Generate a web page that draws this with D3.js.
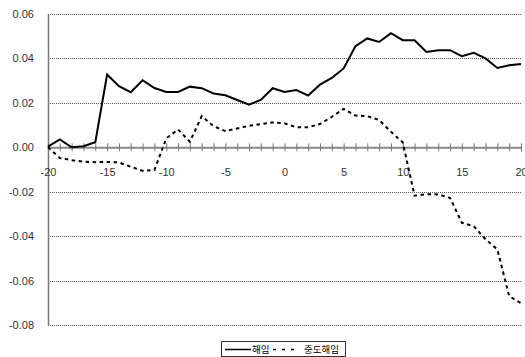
<!DOCTYPE html>
<html><head><meta charset="utf-8">
<script src="https://cdn.jsdelivr.net/npm/d3@7"></script>
<style>
html,body{margin:0;padding:0;background:#fff;}
svg{display:block;}
</style>
</head><body>
<svg id="chart" width="525" height="357"></svg>
<script>
const days = d3.range(-20, 21);
const dismissal = [0.0003,0.0035,0.0000,0.0005,0.0023,0.0327,0.0275,0.0248,0.0302,0.0267,0.0249,0.0249,0.0273,0.0266,0.0242,0.0234,0.0213,0.0192,0.0213,0.0266,0.0249,0.0258,0.0233,0.0282,0.0312,0.0355,0.0455,0.0490,0.0474,0.0514,0.0482,0.0482,0.0429,0.0437,0.0437,0.0410,0.0425,0.0400,0.0357,0.0369,0.0375];
const midDismissal = [0.0000,-0.0048,-0.0058,-0.0065,-0.0067,-0.0066,-0.0068,-0.0088,-0.0106,-0.0102,0.0040,0.0080,0.0025,0.0140,0.0095,0.0073,0.0085,0.0097,0.0104,0.0112,0.0108,0.0090,0.0090,0.0105,0.0137,0.0173,0.0143,0.0140,0.0123,0.0070,0.0022,-0.0218,-0.0211,-0.0212,-0.0228,-0.0340,-0.0355,-0.0414,-0.0460,-0.0670,-0.0702];
const seriesNames = ["해임", "중도해임"];
const yTicks = [0.06, 0.04, 0.02, 0.00, -0.02, -0.04, -0.06, -0.08];
const yTickLabels = ["0.06", "0.04", "0.02", "0.00", "-0.02", "-0.04", "-0.06", "-0.08"];
const xLabelTicks = [-20, -15, -10, -5, 0, 5, 10, 15, 20];

const svg = d3.select("#chart");
const x = d3.scaleLinear().domain([-20, 20]).range([48, 521]);
const y = d3.scaleLinear().domain([-0.08, 0.06]).range([325, 14]);
const font = "'Liberation Sans', Arial, sans-serif";

// gridlines
svg.append("g").selectAll("line").data(yTicks.filter(d => d !== 0)).join("line")
  .attr("x1", x(-20)).attr("x2", x(20))
  .attr("y1", d => Math.round(y(d)) + 0.5).attr("y2", d => Math.round(y(d)) + 0.5)
  .attr("stroke", "#555").attr("stroke-width", 1).attr("stroke-dasharray", "1,1");

// y axis
const yAxis = d3.axisLeft(y).tickValues(yTicks).tickSize(0).tickPadding(14)
  .tickFormat((d, i) => yTickLabels[i]);
const gy = svg.append("g").attr("transform", `translate(${x(-20)},0)`).call(yAxis);
gy.select(".domain").attr("stroke", "#777").attr("stroke-width", 1.5);
gy.selectAll("text").attr("font-family", font).attr("font-size", 11).attr("fill", "#333");

// x axis at zero
const y0 = y(0);
const xAxis = d3.axisBottom(x).tickValues(days).tickSize(0).tickFormat("");
const gx = svg.append("g").attr("transform", `translate(0,${y0})`).call(xAxis);
gx.select(".domain").attr("stroke", "#888").attr("stroke-width", 2);
gx.selectAll(".tick").append("line").attr("y1", -4).attr("y2", 4)
  .attr("stroke", "#777").attr("stroke-width", 1);
gx.selectAll(".tick").filter(d => xLabelTicks.includes(d)).append("text")
  .attr("y", 29).attr("text-anchor", "middle")
  .attr("font-family", font).attr("font-size", 11).attr("fill", "#333")
  .text(d => d);

// lines
const line = d3.line().x((d, i) => x(days[i])).y(d => y(d));
svg.append("path").datum(dismissal).attr("d", line)
  .attr("fill", "none").attr("stroke", "#000").attr("stroke-width", 2);
svg.append("path").datum(midDismissal).attr("d", line)
  .attr("fill", "none").attr("stroke", "#000").attr("stroke-width", 2)
  .attr("stroke-dasharray", "3.5,3.5");

// legend
const lg = svg.append("g");
lg.append("rect").attr("x", 221.5).attr("y", 341.5).attr("width", 124).attr("height", 15)
  .attr("fill", "#fff").attr("stroke", "#333").attr("stroke-width", 1);
lg.append("line").attr("x1", 225).attr("x2", 251).attr("y1", 349.5).attr("y2", 349.5)
  .attr("stroke", "#000").attr("stroke-width", 1.5);
lg.append("text").attr("x", 252).attr("y", 353).attr("font-family", "'Noto Sans CJK KR', sans-serif")
  .attr("font-size", 9.5).attr("fill", "#000").text(seriesNames[0]);
lg.append("line").attr("x1", 273).attr("x2", 300).attr("y1", 349.5).attr("y2", 349.5)
  .attr("stroke", "#000").attr("stroke-width", 1.5).attr("stroke-dasharray", "3,6");
lg.append("text").attr("x", 304).attr("y", 353).attr("font-family", "'Noto Sans CJK KR', sans-serif")
  .attr("font-size", 9.5).attr("fill", "#000").text(seriesNames[1]);
</script>
</body></html>
